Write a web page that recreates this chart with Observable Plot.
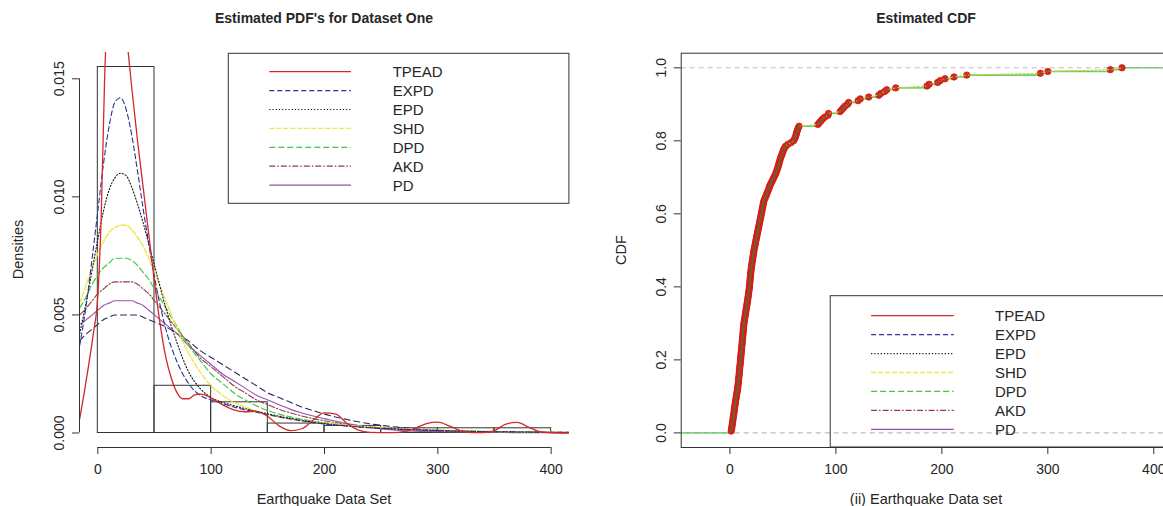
<!DOCTYPE html>
<html><head><meta charset="utf-8">
<script src="https://cdn.jsdelivr.net/npm/d3@7"></script>
<script src="https://cdn.jsdelivr.net/npm/@observablehq/plot@0.6"></script>
<style>
body{margin:0;background:#fff;}
#wrap{position:relative;width:1163px;height:506px;overflow:hidden;background:#fff;font-family:"Liberation Sans",Arial,Helvetica,sans-serif;}
#left,#right,#overlay{position:absolute;top:0;}
#left{left:0;width:600px;}
#right{left:600px;width:600px;}
#overlay{left:0;}
</style></head><body>
<div id="wrap"><div id="left"></div><div id="right"></div><svg id="overlay" width="1163" height="506"></svg></div>
<script>
// ---------------- DATA ----------------
const seriesNames = ["TPEAD","EXPD","EPD","SHD","DPD","AKD","PD"];

// histogram (bin breaks and densities)
const histBreaks  = [0,50,100,150,200,250,300,350,400];
const histDensity = [0.0155,0.0020,0.0013,0.0004,0.0003,0.0002,0.0002,0.0002];

// density curves, common grid
const pdfGrid = [-16,-10,-5,0,5,10,15,20,25,30,35,40,45,50,60,70,80,90,100,110,120,130,140,150,160,170,180,190,200,220,240,260,280,300,320,340,360,380,400,416];
const expd = [0.0037,0.0055,0.0074,0.0094,0.0114,0.0130,0.0140,0.0142,0.0137,0.0126,0.0111,0.0095,0.0080,0.0066,0.0044,0.0030,0.0021,0.0016,0.0014,0.00125,0.0011,0.00098,0.00088,0.00078,0.00068,0.00059,0.00051,0.00044,0.00038,0.00029,0.00022,0.00017,0.00013,0.0001,0.00008,0.00006,0.00005,0.00004,0.00003,0.000025];
const epd  = [0.0042,0.0056,0.0069,0.0082,0.0094,0.0103,0.0108,0.0110,0.0109,0.0104,0.0097,0.0089,0.0080,0.0071,0.0053,0.0038,0.0026,0.0019,0.0015,0.0013,0.00116,0.00103,0.00092,0.00081,0.00071,0.00062,0.00054,0.00046,0.0004,0.0003,0.00023,0.00018,0.00014,0.00011,0.00008,0.00006,0.00005,0.00004,0.00003,0.000025];
const shd  = [0.0055,0.0063,0.0070,0.0076,0.0081,0.0085,0.0087,0.0088,0.0088,0.0086,0.0083,0.0079,0.0074,0.0068,0.0056,0.0044,0.0034,0.0026,0.0020,0.0016,0.0013,0.0011,0.00092,0.00078,0.00068,0.0006,0.00053,0.00047,0.00042,0.00033,0.00026,0.0002,0.00015,0.00012,0.00009,0.00007,0.00005,0.00004,0.00003,0.00002];
const dpd  = [0.0053,0.0058,0.0063,0.0067,0.0070,0.0072,0.0074,0.0074,0.0074,0.0073,0.0071,0.0068,0.0065,0.0061,0.0053,0.0045,0.0037,0.0031,0.0025,0.0021,0.0017,0.0014,0.00115,0.00095,0.0008,0.00068,0.00058,0.0005,0.00044,0.00033,0.00025,0.00019,0.00015,0.00012,0.00009,0.00007,0.00005,0.00004,0.00003,0.00002];
const akd  = [0.0050,0.0053,0.0056,0.0059,0.0061,0.0063,0.0064,0.0064,0.0064,0.0064,0.0063,0.0061,0.0059,0.0056,0.0050,0.0044,0.0038,0.0032,0.0028,0.0024,0.0020,0.0017,0.0014,0.0012,0.0010,0.00085,0.00072,0.00061,0.00052,0.00037,0.00026,0.00019,0.00014,0.0001,0.00008,0.00006,0.00004,0.00003,0.00002,0.00002];
const pd   = [0.0046,0.0048,0.0050,0.0052,0.0054,0.0055,0.0056,0.0056,0.0056,0.0056,0.0055,0.0054,0.0052,0.0050,0.0046,0.0042,0.0037,0.0033,0.0029,0.0025,0.0022,0.0019,0.0016,0.0014,0.0012,0.0010,0.00085,0.00072,0.00061,0.0004,0.00024,0.00013,0.00008,0.00006,0.00004,0.00003,0.00002,0.00001,0.00001,0.00001];
const unlabeled = [0.0039,0.0042,0.0044,0.0046,0.0048,0.0049,0.0050,0.0050,0.0050,0.0050,0.0050,0.0049,0.0048,0.0047,0.0045,0.0042,0.0039,0.0035,0.0032,0.0029,0.0026,0.0023,0.0020,0.0017,0.0015,0.0013,0.0011,0.00095,0.0008,0.00057,0.00039,0.00027,0.00018,0.00012,0.00008,0.00006,0.00004,0.00003,0.00002,0.00002];

// TPEAD on its own (finer) grid
const tpeadGrid = [-16,-12,-8,-4,0,3,6,10,15,20,25,30,35,40,45,50,55,60,65,70,75,80,85,90,95,100,110,120,130,140,150,160,170,180,190,200,210,220,230,240,260,270,280,290,300,310,320,330,340,350,360,370,380,390,400,416];
const tpead = [0.0006,0.0017,0.0029,0.0042,0.0058,0.0092,0.0150,0.0192,0.0210,0.0195,0.0170,0.0146,0.0124,0.0104,0.0084,0.0064,0.0046,0.0032,0.0023,0.0017,0.00145,0.00145,0.0016,0.00165,0.0016,0.00148,0.0012,0.00098,0.0009,0.00092,0.0007,0.0003,0.0001,0.00018,0.00055,0.00085,0.0008,0.0004,0.00012,0.00003,0.00002,0.00006,0.0002,0.0004,0.00046,0.0003,0.0001,0.00002,0.00002,0.0001,0.00038,0.00045,0.00025,0.00006,0.00001,0];

// earthquake data (sorted), read from the empirical CDF
const quakeData = [
1.2,1.5,1.8,2.0,2.3,2.5,2.8,3.0,3.2,3.5,
3.8,4.0,4.2,4.5,4.7,5.0,5.2,5.5,5.8,6.0,
6.3,6.6,7.0,7.2,7.4,7.6,7.8,8.0,8.1,8.3,
8.5,8.7,8.8,9.0,9.2,9.3,9.5,9.7,9.9,10.0,
10.1,10.3,10.5,10.6,10.8,11.0,11.1,11.3,11.5,11.6,
11.8,11.9,12.1,12.3,12.4,12.6,12.7,12.9,13.0,13.2,
13.5,13.8,14.0,14.3,14.6,14.9,15.1,15.4,15.7,16.0,
16.2,16.5,16.8,17.0,17.3,17.5,17.7,18.0,18.2,18.4,
18.5,18.7,18.9,19.0,19.2,19.4,19.5,19.7,19.9,20.1,
20.3,20.6,20.8,21.1,21.4,21.6,21.9,22.2,22.4,22.7,
23.0,23.4,23.7,24.1,24.4,24.7,25.1,25.4,25.8,26.1,
26.5,26.8,27.2,27.5,27.9,28.2,28.6,29.0,29.3,29.6,
30.0,30.3,30.6,31.0,31.3,31.6,32.0,32.7,33.4,34.1,
34.8,35.5,36.2,36.9,37.3,38.2,39.0,39.9,40.7,41.5,
42.4,43.2,43.8,44.4,45.0,45.5,46.0,46.5,47.0,47.4,
48.0,48.7,49.3,50.0,50.5,51.5,52.5,54.5,57.5,60.0,
61.0,61.8,62.3,62.7,63.2,63.8,64.4,65.2,83.0,84.5,
86.0,87.5,89.5,92.5,93.0,104.0,105.5,107.0,108.5,111.0,
112.0,121.0,123.0,131.0,140.5,142.5,146.0,148.0,156.5,186.0,
188.0,196.0,198.5,203.0,211.5,223.5,293.0,300.0,359.0,370.0];

const cdfGuides = [0, 1];
const pdfXTicks = [0,100,200,300,400];
const pdfYTicks = [0,0.005,0.010,0.015];
const cdfXTicks = [0,100,200,300,400];
const cdfYTicks = [0,0.2,0.4,0.6,0.8,1.0];

// ---------------- STYLES ----------------
const FONT = '"Liberation Sans", Arial, Helvetica, sans-serif';
const INK = "#262626";
const style = {
  TPEAD: {color:"#d2282a", dash:null, w:1.3},
  EXPD:  {color:"#2c3290", dash:"5,3", w:1.1},
  EPD:   {color:"#151515", dash:"1.2,2", w:1.1},
  SHD:   {color:"#eee64a", dash:"5,2", w:1.4},
  DPD:   {color:"#45c845", dash:"6,3", w:1.2},
  AKD:   {color:"#8e3f47", dash:"6,2,1.5,2", w:1.1},
  PD:    {color:"#9650b0", dash:null, w:1.1},
  none:  {color:"#28295c", dash:"6,4", w:1.1}
};

// ---------------- LEFT: PDFs ----------------
const pdfXDom = [-16.16, 416];
const pdfYDom = [-0.000614, 0.016114];
const hist = histDensity.map((d,i) => ({x1: histBreaks[i], x2: histBreaks[i+1], d}));
const toPts = (xs, ys) => xs.map((x,i) => ({x, y: ys[i]}));
const curves = [
  {key:"none",  pts: toPts(pdfGrid, unlabeled)},
  {key:"PD",    pts: toPts(pdfGrid, pd)},
  {key:"AKD",   pts: toPts(pdfGrid, akd)},
  {key:"DPD",   pts: toPts(pdfGrid, dpd)},
  {key:"SHD",   pts: toPts(pdfGrid, shd)},
  {key:"EPD",   pts: toPts(pdfGrid, epd)},
  {key:"EXPD",  pts: toPts(pdfGrid, expd)},
  {key:"TPEAD", pts: toPts(tpeadGrid, tpead)}
];

const leftPlot = Plot.plot({
  width: 600, height: 506,
  marginLeft: 79, marginRight: 31.2, marginTop: 52, marginBottom: 59,
  x: {domain: pdfXDom},
  y: {domain: pdfYDom},
  style: {fontFamily: FONT, fontSize: "14px", color: INK, background: "transparent", maxWidth: "none", overflow: "visible"},
  marks: [
    Plot.rect(hist, {x1: "x1", x2: "x2", y1: 0, y2: "d", fill: "none", stroke: "#333", strokeWidth: 1}),
    ...curves.map(c => Plot.line(c.pts, {x: "x", y: "y", stroke: style[c.key].color, strokeWidth: style[c.key].w,
        strokeDasharray: style[c.key].dash, curve: "monotone-x", clip: true})),
    Plot.ruleX([pdfXDom[0]], {y1: pdfYTicks[0], y2: pdfYTicks[pdfYTicks.length-1], stroke: "#333"}),
    Plot.ruleY([pdfYDom[0]], {x1: pdfXTicks[0], x2: pdfXTicks[pdfXTicks.length-1], stroke: "#333"}),
    Plot.axisY({ticks: pdfYTicks, tickSize: 7, tickPadding: 9, tickRotate: -90, tickFormat: d3.format(".3f"), label: null, fontSize: 14, stroke: "#333"}),
    Plot.axisX({ticks: pdfXTicks, tickSize: 7, tickPadding: 10, label: null, fontSize: 14, stroke: "#333"})
  ]
});
document.getElementById("left").append(leftPlot);

// ---------------- RIGHT: CDF ----------------
const cdfXDom = [-46, 417];
const cdfYDom = [-0.04, 1.04];
const n = quakeData.length;
const ecdfPts = quakeData.map((x,i) => ({x, F: (i+1)/n}));
const steps = [{F: 0, x1: cdfXDom[0], x2: quakeData[0]}]
  .concat(ecdfPts.map((p,i) => ({F: p.F, x1: p.x, x2: i < n-1 ? quakeData[i+1] : cdfXDom[1]})));

const rightPlot = Plot.plot({
  width: 600, height: 506,
  marginLeft: 80.7, marginRight: 28.7, marginTop: 52.7, marginBottom: 59,
  x: {domain: cdfXDom},
  y: {domain: cdfYDom},
  style: {fontFamily: FONT, fontSize: "14px", color: INK, background: "transparent", maxWidth: "none", overflow: "visible"},
  marks: [
    Plot.ruleY(steps, {y: "F", x1: "x1", x2: "x2", stroke: "#62d462", strokeWidth: 1.6}),
    Plot.ruleY(cdfGuides, {stroke: "#bdbdbd", strokeDasharray: "5,4", strokeWidth: 1.1}),
    Plot.dot(ecdfPts, {x: "x", y: "F", r: 3.2, fill: "#e3221c", stroke: "#cf1b17", strokeWidth: 0.8}),
    Plot.line(ecdfPts, {x: "x", y: "F", stroke: "#d8c443", strokeWidth: 1.1, strokeDasharray: "2,2"}),
    Plot.dot(ecdfPts, {x: "x", y: "F", r: 1.2, fill: "#6f5c2e"}),
    Plot.frame({stroke: "#333"}),
    Plot.axisY({ticks: cdfYTicks, tickSize: 7, tickPadding: 8, tickRotate: -90, tickFormat: d3.format(".1f"), label: null, fontSize: 14, stroke: "#333"}),
    Plot.axisX({ticks: cdfXTicks, tickSize: 7, tickPadding: 10, label: null, fontSize: 14, stroke: "#333"})
  ]
});
document.getElementById("right").append(rightPlot);

// ---------------- TEXT & LEGENDS ----------------
const ov = d3.select("#overlay").style("font-family", FONT);
function txt(x, y, s, {size = 14.5, weight = "normal", rotate = 0, anchor = "middle"} = {}) {
  ov.append("text").attr("transform", `translate(${x},${y}) rotate(${rotate})`)
    .attr("text-anchor", anchor).attr("dy", "0.36em")
    .attr("font-size", size).attr("font-weight", weight).attr("fill", INK).text(s);
}
txt(324, 18, "Estimated PDF's for Dataset One", {size: 14, weight: "bold"});
txt(926, 18, "Estimated CDF", {size: 14, weight: "bold"});
txt(324, 499, "Earthquake Data Set");
txt(926, 499, "(ii) Earthquake Data set");
txt(17.5, 249.5, "Densities", {rotate: -90});
txt(620.5, 250, "CDF", {rotate: -90});

function legend({bx, by, bw, bh, lx1, lx2, tx, ry0, rstep}) {
  ov.append("rect").attr("x", bx).attr("y", by).attr("width", bw).attr("height", bh)
    .attr("fill", "none").attr("stroke", "#333").attr("stroke-width", 1);
  seriesNames.forEach((name, i) => {
    const y = ry0 + i * rstep, s = style[name];
    ov.append("line").attr("x1", lx1).attr("x2", lx2).attr("y1", y).attr("y2", y)
      .attr("stroke", s.color).attr("stroke-width", Math.max(1.2, s.w))
      .attr("stroke-dasharray", s.dash);
    ov.append("text").attr("x", tx).attr("y", y).attr("dy", "0.36em")
      .attr("font-size", 15).attr("fill", INK).text(name);
  });
}
legend({bx: 228.3, by: 53.3, bw: 340.6, bh: 150, lx1: 269.3, lx2: 351, tx: 392.7, ry0: 71.7, rstep: 18.9});
legend({bx: 830.2, by: 295.7, bw: 400, bh: 151.3, lx1: 871.1, lx2: 953.7, tx: 995, ry0: 315.7, rstep: 18.93});
</script></body></html>
